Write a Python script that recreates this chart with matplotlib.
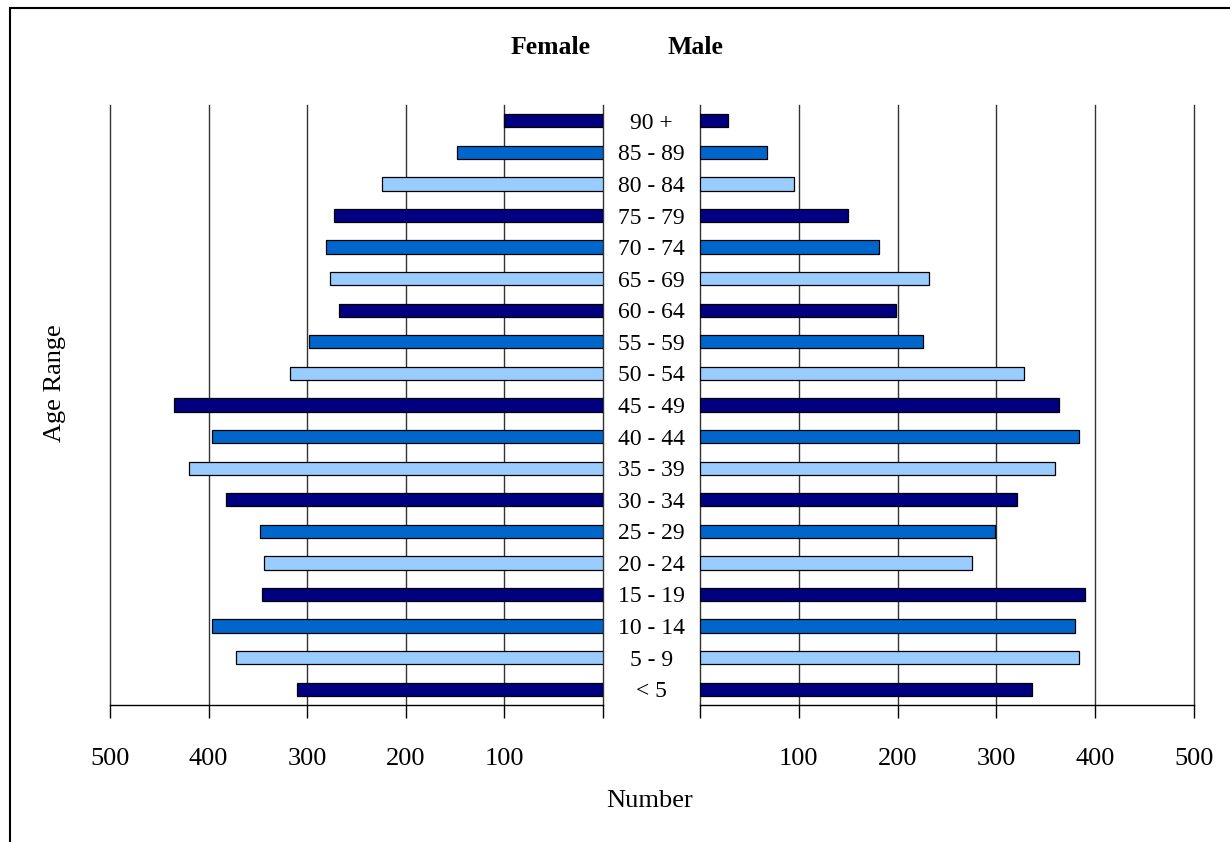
import matplotlib
matplotlib.use("Agg")
import matplotlib.pyplot as plt
from matplotlib.patches import Rectangle

plt.rcParams["font.family"] = ["Liberation Serif", "DejaVu Serif"]

age_groups = ["< 5", "5 - 9", "10 - 14", "15 - 19", "20 - 24", "25 - 29",
              "30 - 34", "35 - 39", "40 - 44", "45 - 49", "50 - 54", "55 - 59",
              "60 - 64", "65 - 69", "70 - 74", "75 - 79", "80 - 84", "85 - 89",
              "90 +"]
female = [310, 372, 397, 346, 344, 348, 382, 420, 397, 435, 317, 298,
          268, 277, 281, 273, 224, 148, 100]
male = [336, 384, 380, 390, 275, 299, 321, 359, 384, 363, 328, 226,
        198, 232, 181, 150, 95, 68, 28]
ticks = [0, 100, 200, 300, 400, 500]

palette = ["#000080", "#99CCFF", "#0066CC"]
colors = [palette[i % 3] for i in range(len(age_groups))]

W, H = 1230, 842
fig = plt.figure(figsize=(W / 100, H / 100), dpi=100)

def make_ax(x0, x1):
    return fig.add_axes([x0 / W, (H - 705) / H, (x1 - x0) / W, (705 - 105) / H])

ax_f = make_ax(110, 603)
ax_m = make_ax(700, 1194)
y = list(range(len(age_groups)))

for ax, vals in ((ax_f, female), (ax_m, male)):
    ax.barh(y, vals, height=0.42, color=colors, edgecolor="black",
            linewidth=0.9, zorder=3)
    ax.set_xlim(0, 500)
    ax.set_ylim(-0.5, len(age_groups) - 0.5)
    ax.set_xticks(ticks)
    ax.set_xticklabels([""] + [str(t) for t in ticks[1:]], fontsize=19)
    ax.tick_params(axis="x", direction="out", length=9, width=1, pad=22)
    for t in ticks:
        ax.axvline(t, color="#333333", linewidth=1, zorder=0, clip_on=False)
    for s in ("top", "left", "right"):
        ax.spines[s].set_visible(False)
    ax.spines["bottom"].set_linewidth(1)

ax_f.invert_xaxis()
ax_f.set_yticks([])

ax_m.set_yticks(y)
ax_m.set_yticklabels(age_groups, fontsize=17, ha="center")
ax_m.tick_params(axis="y", length=0, pad=35)

fig.text(551 / W, 1 - 47 / H, "Female", fontsize=18.5, fontweight="bold",
         ha="center", va="center")
fig.text(695 / W, 1 - 47 / H, "Male", fontsize=18.5, fontweight="bold",
         ha="center", va="center")
fig.text(650 / W, 1 - 801 / H, "Number", fontsize=19, ha="center", va="center")
fig.text(55 / W, 1 - 383 / H, "Age Range", fontsize=19, rotation=90,
         ha="center", va="center")

fig.patches.append(Rectangle((10 / W, -0.1), 1.2, 1 - 8 / H + 0.1,
                             transform=fig.transFigure, fill=False,
                             edgecolor="black", linewidth=1.5))

fig.savefig("out.png", dpi=100)
